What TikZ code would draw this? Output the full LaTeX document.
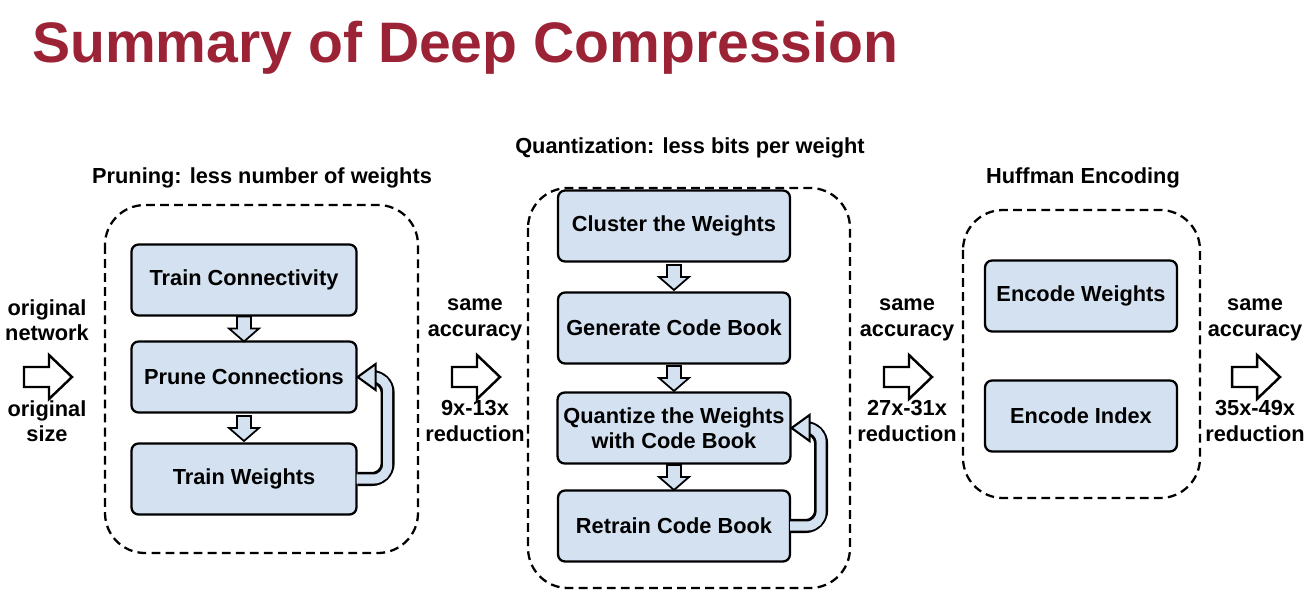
\documentclass[tikz,border=0pt]{standalone}
\usepackage{fontspec}
\setmainfont{Liberation Sans}
\usetikzlibrary{shapes,arrows,positioning,calc}
\definecolor{titlered}{RGB}{155,35,53}
\definecolor{boxblue}{RGB}{212,225,241}
\begin{document}
\begin{tikzpicture}[x=0.02cm,y=-0.02cm,
  every node/.style={font=\fontsize{12.4}{14.5}\selectfont\bfseries, align=center},
  stepbox/.style={draw, line width=1.3pt, fill=boxblue, rounded corners=4pt, minimum width=4.5cm, minimum height=1.42cm},
  stage/.style={draw, dash pattern=on 5pt off 3pt, line width=1.3pt, rounded corners=0.8cm},
  bigarrow/.style={draw, line width=1.4pt, fill=white, line join=miter},
  downarrow/.style={draw, line width=1pt, fill=boxblue}]
\useasboundingbox (0,0) rectangle (1310,602);

\node[anchor=base west, font=\fontsize{32.5}{36}\selectfont\bfseries, text=titlered] (title) at (26,62) {Summary of Deep Compression};

% pruning
\draw[stage] (105,205) rectangle (418,553);
\node (plabel) at (262,178) {Pruning: less number of weights};
\node[stepbox] (tc) at (244,280) {Train Connectivity};
\node[stepbox] (pc) at (244,377) {Prune Connections};
\node[stepbox] (tw) at (244,479) {Train Weights};

% quantization
\draw[stage] (528,188) rectangle (850,588);
\node (qlabel) at (690,148) {Quantization: less bits per weight};
\node[stepbox, minimum width=4.64cm] (cw) at (674,226) {Cluster the Weights};
\node[stepbox, minimum width=4.64cm] (gc) at (674,328) {Generate Code Book};
\node[stepbox, minimum width=4.64cm] (qw) at (674,428) {Quantize the Weights\\with Code Book};
\node[stepbox, minimum width=4.64cm] (rc) at (674,526) {Retrain Code Book};

% huffman
\draw[stage] (963,210) rectangle (1200,498);
\node (hlabel) at (1083,178) {Huffman Encoding};
\node[stepbox, minimum width=3.84cm] (ew) at (1081,296) {Encode Weights};
\node[stepbox, minimum width=3.84cm] (ei) at (1081,416) {Encode Index};

% small arrows between steps
\foreach \a/\b in {tc/pc, pc/tw, cw/gc, gc/qw, qw/rc} {
  \coordinate (m) at ($(\a.south)!0.5!(\b.north)$);
  \draw[downarrow] (m) ++(-7,-12) -- ++(14,0) -- ++(0,12) -- ++(8,0) -- ++(-15,13) -- ++(-15,-13) -- ++(8,0) -- cycle;
}

% feedback loops
\foreach \from/\to in {tw/pc, rc/qw} {
  \draw[line width=8pt, rounded corners=9pt] (\from.east) -- ++(30,0) |- ($(\to.east)+(14,0)$);
  \draw[line width=5.2pt, boxblue, rounded corners=8pt] ($(\from.east)+(-1,0)$) -- ++(31,0) |- ($(\to.east)+(14,0)$);
  \filldraw[fill=boxblue, line width=1.2pt, line join=miter] (\to.east) -- ++(18,-13) -- ++(0,26) -- cycle;
}

% side texts
\foreach \n/\cx/\top/\bot in {a/47/{original\\network}/{original\\size}, b/475/{same\\accuracy}/{9x-13x\\reduction}, c/907/{same\\accuracy}/{27x-31x\\reduction}, d/1255/{same\\accuracy}/{35x-49x\\reduction}} {
  \coordinate (arr\n) at (\cx,377);
  \draw[bigarrow] (arr\n) ++(-23,-10) -- ++(25,0) -- ++(0,-12) -- ++(23,22) -- ++(-23,22) -- ++(0,-12) -- ++(-25,0) -- cycle;
  \node (top\n) at (\cx,320) {\top};
  \node (bot\n) at (\cx,421) {\bot};
}
\end{tikzpicture}
\end{document}
